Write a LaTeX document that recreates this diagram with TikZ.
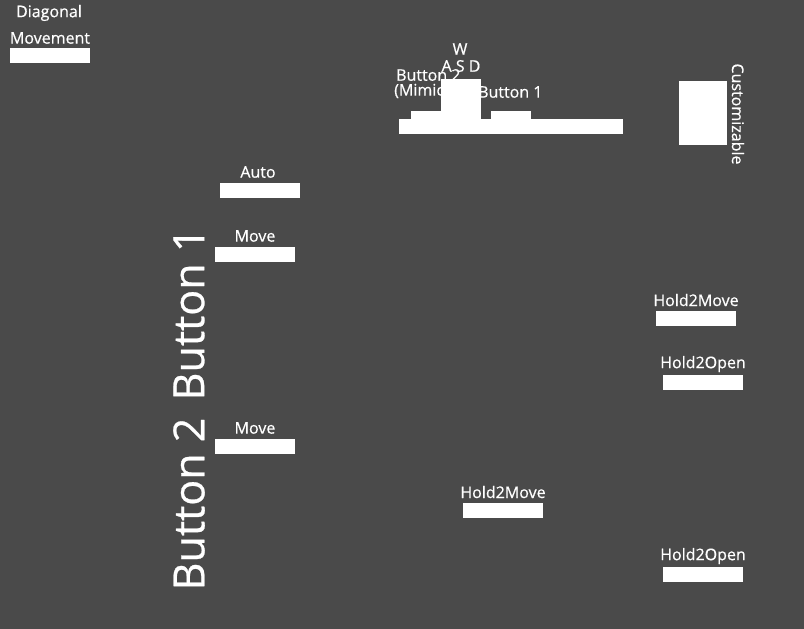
\documentclass[tikz,border=0pt]{standalone}
\usepackage{fontspec}
\setmainfont{Open Sans}[FakeBold=0.6]
\definecolor{bg}{HTML}{4A4A4A}
\begin{document}
\begin{tikzpicture}[x=1pt,y=-1pt,
  lbl/.style={text=white,font=\fontsize{16}{16}\selectfont,inner sep=0pt,anchor=center},
  big/.style={text=white,font=\fontsize{43}{43}\selectfont,inner sep=0pt,anchor=center,rotate=90},
  box/.style={fill=white,draw=none}]
\fill[bg] (0,0) rectangle (804,629);
\useasboundingbox (0,0) rectangle (804,629);
% top-left
\node[lbl] (diag) at (49,13) {Diagonal};
\node[lbl] (mov) at (50,38) {Movement};
\fill[box] (10,48) rectangle (90,63);
% keyboard area
\node[lbl] (w) at (460,49) {W};
\node[lbl] (asd) at (461,66) {A S D};
\node[lbl,anchor=west] (b2) at (396,75) {Button 2};
\node[lbl,anchor=west] (mim) at (394,91) {(Mimic};
\node[lbl,anchor=west] (b1) at (478,92) {Button 1};
\fill[box] (441,79) rectangle (481,120);
\fill[box] (411,111) rectangle (441,120);
\fill[box] (491,111) rectangle (531,120);
\fill[box] (399,119) rectangle (623,134);
% customizable
\fill[box] (679,81) rectangle (727,145);
\node[lbl,rotate=-90] (cust) at (738,114) {Customizable};
% left column
\node[lbl] (auto) at (258,172) {Auto};
\fill[box] (220,183) rectangle (300,198);
\node[lbl] (m1) at (255,236) {Move};
\fill[box] (215,247) rectangle (295,262);
\node[lbl] (m2) at (255,428) {Move};
\fill[box] (215,439) rectangle (295,454);
\node[big] (bb1) at (189,314) {Button 1};
\node[big] (bb2) at (189,504) {Button 2};
% right / bottom
\node[lbl] (h2m) at (696,300) {Hold2Move};
\fill[box] (656,311) rectangle (736,326);
\node[lbl] (h2o) at (703,364) {Hold2Open};
\fill[box] (663,375) rectangle (743,390);
\node[lbl] (h2mb) at (503,492) {Hold2Move};
\fill[box] (463,503) rectangle (543,518);
\node[lbl] (h2ob) at (703,556) {Hold2Open};
\fill[box] (663,567) rectangle (743,582);
\end{tikzpicture}
\end{document}
